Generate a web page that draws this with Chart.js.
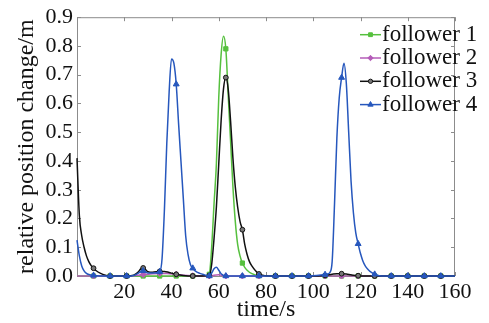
<!DOCTYPE html>
<html>
<head>
<meta charset="utf-8">
<script src="https://cdn.jsdelivr.net/npm/chart.js@4/dist/chart.umd.min.js"></script>
<style>
  html, body { margin: 0; padding: 0; background: #fff; }
  #wrap { width: 489px; height: 323px; }
</style>
</head>
<body>
<div id="wrap"><canvas id="posChart" width="489" height="323"></canvas></div>
<script>
// series labels
const seriesNames = ["follower 1", "follower 2", "follower 3", "follower 4"];

// times where a marker is shown (s)
const markerTimes = [7, 14, 21, 28, 35, 42, 49, 56, 63, 70, 77, 84, 91, 98, 105, 112, 119, 126, 133, 140, 147, 154];

// follower 1 (green)
const times1 = [0, 7, 14, 21, 28, 35, 42, 49, 55, 56, 57, 58, 59, 60, 61, 62, 63, 64, 65, 66, 67, 68, 69, 70, 71, 72, 74, 77, 84, 91, 98, 105, 112, 119, 126, 133, 140, 147, 154, 160];
const values1 = [0, 0, 0, 0, 0, 0, 0, 0, 0, 0.006, 0.1, 0.25, 0.39, 0.62, 0.77, 0.834, 0.79, 0.63, 0.47, 0.31, 0.19, 0.11, 0.07, 0.045, 0.03, 0.02, 0.008, 0.001, 0, 0, 0, 0, 0, 0, 0, 0, 0, 0, 0, 0];

// follower 2 (magenta)
const times2 = [0, 7, 14, 21, 24, 26, 28, 30, 32, 35, 38, 42, 45, 49, 56, 58, 60, 63, 70, 77, 84, 91, 98, 105, 112, 119, 126, 133, 140, 147, 154, 160];
const values2 = [0, 0, 0, 0, 0.001, 0.003, 0.005, 0.006, 0.008, 0.009, 0.009, 0.006, 0.003, 0.001, 0, 0.003, 0.004, 0, 0, 0, 0, 0, 0, 0, 0, 0, 0, 0, 0, 0, 0, 0];

// follower 3 (black)
const times3 = [0, 1, 2, 3, 4, 5, 6, 7, 8, 10, 12, 14, 21, 24, 26, 27, 28, 29, 30, 32, 35, 37, 39, 42, 45, 49, 56, 57, 58, 59, 60, 61, 62, 63, 64, 65, 66, 67, 68, 69, 70, 71, 72, 73, 74, 77, 80, 84, 91, 98, 105, 108, 110, 112, 114, 116, 119, 126, 133, 140, 147, 154, 160];
const values3 = [0.41, 0.21, 0.14, 0.1, 0.07, 0.05, 0.036, 0.027, 0.019, 0.009, 0.003, 0,
  0, 0.003, 0.015, 0.025, 0.028, 0.022, 0.015, 0.013, 0.016, 0.016, 0.012, 0.006, 0.002, 0,
  0.002, 0.04, 0.13, 0.24, 0.39, 0.54, 0.65, 0.69, 0.65, 0.54, 0.41, 0.31, 0.24, 0.19, 0.161, 0.11, 0.075, 0.05, 0.035,
  0.007, 0.001, 0, 0, 0,
  0.002, 0.006, 0.008, 0.008, 0.007, 0.004, 0.001,
  0, 0, 0, 0, 0, 0];

// follower 4 (blue)
const times4 = [0, 1, 2, 3, 4, 5, 7, 14, 21, 24, 26, 27, 28, 29, 30, 32, 35, 36, 37, 38, 39, 40, 41, 42, 43, 44, 45, 46, 47, 48, 49, 50, 52, 54, 56, 57, 58, 59, 60, 61, 63, 70, 77, 84, 91, 98, 105, 106, 107, 108, 109, 110, 111, 112, 113, 114, 115, 116, 117, 118, 119, 120, 121, 122, 123, 124, 126, 128, 133, 140, 147, 154, 160];
const values4 = [0.125, 0.07, 0.035, 0.018, 0.009, 0.005, 0.002, 0, 0,
  0.002, 0.01, 0.017, 0.018, 0.014, 0.01, 0.01, 0.015,
  0.06, 0.23, 0.46, 0.64, 0.755, 0.74, 0.667, 0.53, 0.40, 0.27, 0.14, 0.075, 0.04, 0.027, 0.018,
  0.009, 0.004, 0, 0.01, 0.025, 0.03, 0.02, 0.008, 0,
  0, 0, 0, 0, 0,
  0.005, 0.007, 0.012, 0.05, 0.25, 0.48, 0.62, 0.69, 0.74, 0.67, 0.5, 0.33, 0.22, 0.15, 0.112, 0.078, 0.052, 0.035, 0.024, 0.016,
  0.006, 0.001, 0, 0, 0, 0, 0];

// axis ticks
const xTicks = [0, 20, 40, 60, 80, 100, 120, 140, 160];
const yTicks = [0, 0.1, 0.2, 0.3, 0.4, 0.5, 0.6, 0.7, 0.8, 0.9];

const FONT = "'Liberation Serif', 'Times New Roman', serif";

function toPoints(ts, vs) {
  return ts.map((t, i) => ({ x: t, y: vs[i] }));
}

function markerRadius(r) {
  return (ctx) => (ctx.raw && markerTimes.includes(ctx.raw.x) ? r : 0);
}

const styles = [
  { color: "#56c03e", fill: "#56c03e", point: "rect", r: 3 },
  { color: "#b45cb8", fill: "#b45cb8", point: "rectRot", r: 3 },
  { color: "#111111", fill: "#777777", point: "circle", r: 2.4 },
  { color: "#2657bd", fill: "#2657bd", point: "triangle", r: 3.4 },
];

const seriesData = [
  toPoints(times1, values1),
  toPoints(times2, values2),
  toPoints(times3, values3),
  toPoints(times4, values4),
];

const datasets = seriesData.map((pts, i) => ({
  label: seriesNames[i],
  data: pts,
  borderColor: styles[i].color,
  backgroundColor: styles[i].fill,
  borderWidth: 1.5,
  pointStyle: styles[i].point,
  pointRadius: markerRadius(styles[i].r),
  pointBackgroundColor: styles[i].fill,
  pointBorderColor: styles[i].color,
  pointBorderWidth: 1,
  pointHoverRadius: 0,
  cubicInterpolationMode: "monotone",
  fill: false,
  clip: false,
  order: 4 - i, // follower 4 drawn on top
}));

// box around plot + inward tick marks on all four sides
const framePlugin = {
  id: "frame",
  beforeDatasetsDraw(chart) {
    const { ctx, chartArea: a, scales } = chart;
    ctx.save();
    ctx.strokeStyle = "#8c8c8c";
    ctx.lineWidth = 1;
    ctx.strokeRect(a.left + 0.5, a.top + 0.5, a.right - a.left - 1, a.bottom - a.top);
    ctx.beginPath();
    xTicks.forEach((v) => {
      const px = Math.round(scales.x.getPixelForValue(v)) + 0.5;
      ctx.moveTo(px, a.bottom);
      ctx.lineTo(px, a.bottom - 4);
      ctx.moveTo(px, a.top);
      ctx.lineTo(px, a.top + 4);
    });
    yTicks.forEach((v) => {
      const py = Math.round(scales.y.getPixelForValue(v)) + 0.5;
      ctx.moveTo(a.left, py);
      ctx.lineTo(a.left + 4, py);
      ctx.moveTo(a.right, py);
      ctx.lineTo(a.right - 4, py);
    });
    ctx.stroke();
    ctx.restore();
  },
};

// legend inside the top-right corner
const legendPlugin = {
  id: "insideLegend",
  afterDraw(chart) {
    const { ctx, chartArea: a } = chart;
    const x0 = a.right - 95;
    ctx.save();
    chart.data.datasets.forEach((ds, i) => {
      const y = a.top + 17.5 + i * 23.3;
      ctx.strokeStyle = ds.borderColor;
      ctx.lineWidth = 1.5;
      ctx.beginPath();
      ctx.moveTo(x0, y);
      ctx.lineTo(x0 + 21, y);
      ctx.stroke();
      if (Chart.helpers && Chart.helpers.drawPoint) {
        ctx.fillStyle = ds.pointBackgroundColor;
        ctx.strokeStyle = ds.pointBorderColor;
        ctx.lineWidth = 1;
        Chart.helpers.drawPoint(ctx, {
          pointStyle: ds.pointStyle,
          radius: styles[i].r * 0.9,
          rotation: 0,
          borderWidth: 1,
        }, x0 + 10.5, y);
      }
      ctx.fillStyle = "#111";
      ctx.font = "23px " + FONT;
      ctx.textBaseline = "middle";
      ctx.textAlign = "left";
      ctx.fillText(ds.label, x0 + 22, y);
    });
    ctx.restore();
  },
};

new Chart(document.getElementById("posChart"), {
  type: "line",
  data: { datasets: datasets },
  options: {
    responsive: false,
    animation: false,
    layout: { padding: { top: 14, right: 34, left: 0, bottom: 0 } },
    plugins: {
      legend: { display: false },
      tooltip: { enabled: false },
    },
    scales: {
      x: {
        type: "linear",
        min: 0,
        max: 160,
        afterBuildTicks: (scale) => {
          scale.ticks = xTicks.map((v) => ({ value: v }));
        },
        afterFit: (scale) => {
          scale.height = 47;
        },
        ticks: {
          color: "#111",
          font: { family: FONT, size: 22 },
          padding: 3,
          maxRotation: 0,
          autoSkip: false,
          callback: (v) => (v === 0 ? "" : v),
        },
        grid: { display: false, drawTicks: false },
        border: { display: false },
        title: {
          display: true,
          text: "time/s",
          color: "#111",
          font: { family: FONT, size: 24 },
          padding: { top: 0, bottom: -1 },
        },
      },
      y: {
        type: "linear",
        min: 0,
        max: 0.9,
        afterBuildTicks: (scale) => {
          scale.ticks = yTicks.map((v) => ({ value: v }));
        },
        afterFit: (scale) => {
          scale.width = 77;
        },
        ticks: {
          color: "#111",
          font: { family: FONT, size: 22 },
          padding: 4,
          autoSkip: false,
          callback: (v) => Number(v).toFixed(1),
        },
        grid: { display: false, drawTicks: false },
        border: { display: false },
        title: {
          display: true,
          text: "relative position change/m",
          color: "#111",
          font: { family: FONT, size: 24 },
          padding: { top: 12, bottom: 0 },
        },
      },
    },
  },
  plugins: [framePlugin, legendPlugin],
});
</script>
</body>
</html>
